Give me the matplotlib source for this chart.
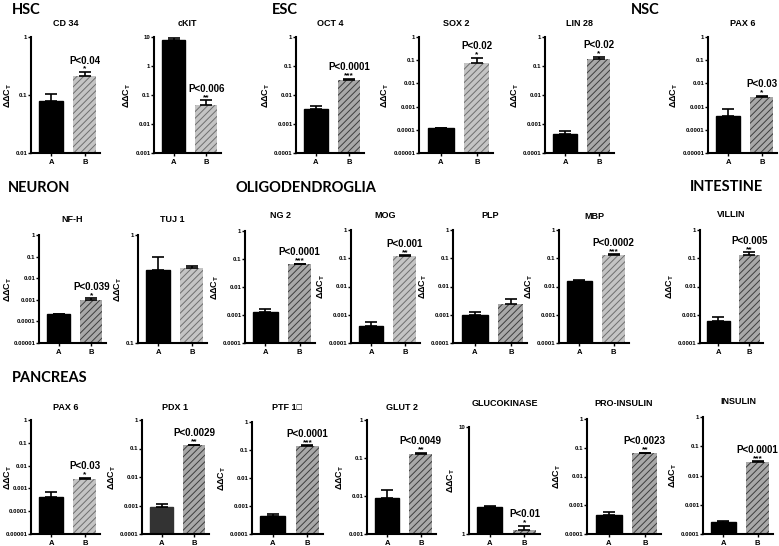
import matplotlib
matplotlib.use("Agg")
import matplotlib.pyplot as plt
from matplotlib.ticker import NullLocator

plt.rcParams['font.family'] = ['Liberation Sans', 'DejaVu Sans']
plt.rcParams['mathtext.fontset'] = 'custom'
plt.rcParams['mathtext.rm'] = 'Liberation Sans'
plt.rcParams['mathtext.bf'] = 'Liberation Sans:bold'
plt.rcParams['hatch.linewidth'] = 0.7

# data (A = control, B = treated), values and upper SEM
genes = ['CD 34', 'cKIT', 'OCT 4', 'SOX 2', 'LIN 28', 'PAX 6',
         'NF-H', 'TUJ 1', 'NG 2', 'MOG', 'PLP', 'MBP', 'VILLIN',
         'PAX 6', 'PDX 1', 'PTF 1\u25a1', 'GLUT 2', 'GLUCOKINASE', 'PRO-INSULIN', 'INSULIN']
a_vals = [0.08, 8, 0.0032, 0.00012, 0.00045, 0.0004,
          0.00022, 0.47, 0.0013, 0.0004, 0.001, 0.016, 0.0006,
          0.0004, 0.0009, 0.00045, 0.009, 1.8, 0.00045, 0.00025]
a_errs = [0.025, 1.5, 0.0011, 0.000005, 0.00012, 0.0004,
          0.00001, 0.15, 0.0003, 0.00015, 0.0003, 0.001, 0.00025,
          0.0003, 0.0002, 0.00005, 0.005, 0.02, 0.00015, 0.00003]
b_vals = [0.21, 0.045, 0.033, 0.075, 0.17, 0.0027,
          0.001, 0.5, 0.065, 0.12, 0.0025, 0.13, 0.13,
          0.0027, 0.13, 0.14, 0.13, 1.08, 0.065, 0.03]
b_errs = [0.04, 0.02, 0.004, 0.055, 0.04, 0.0003,
          0.0002, 0.02, 0.004, 0.006, 0.001, 0.01, 0.03,
          0.0003, 0.008, 0.01, 0.008, 0.12, 0.003, 0.001]
p_text = ['P<0.04', 'P<0.006', 'P<0.0001', 'P<0.02', 'P<0.02', 'P<0.03',
          'P<0.039', '', 'P<0.0001', 'P<0.001', '', 'P<0.0002', 'P<0.005',
          'P<0.03', 'P<0.0029', 'P<0.0001', 'P<0.0049', 'P<0.01', 'P<0.0023', 'P<0.0001']
stars = ['*', '**', '***', '*', '*', '*',
         '*', '', '***', '**', '', '***', '**',
         '*', '**', '***', '**', '*', '**', '***']
y_lo = [-2, -3, -4, -5, -4, -5, -5, -1, -4, -4, -4, -4, -4, -5, -4, -4, -3, 0, -4, -4]
y_hi = [0, 1, 0, 0, 0, 0, 0, 0, 0, 0, 0, 0, 0, 0, 0, 0, 0, 1, 0, 0]
groups = ['HSC', 'ESC', 'NSC', 'NEURON', 'OLIGODENDROGLIA', 'INTESTINE', 'PANCREAS']

# layout in pixels: left spine, right end, top, bottom
boxes = [(31, 100, 37, 153), (154, 221, 37, 153), (296, 364, 37, 153),
         (419, 493, 37, 153), (545, 614, 37, 153), (708, 777, 37, 153),
         (39, 106, 235, 343), (138, 207, 235, 343), (245, 315, 231, 343),
         (351, 420, 230, 343), (453, 527, 230, 343), (559, 629, 230, 343),
         (700, 763, 230, 343),
         (31, 100, 420, 534), (142, 209, 420, 534), (252, 323, 422, 534),
         (367, 436, 420, 534), (469, 540, 427, 534), (587, 661, 419, 534),
         (703, 773, 417, 534)]
title_y = [23, 23, 23, 23, 23, 23,
           220, 220, 216, 216, 216, 217, 215,
           407, 407, 408, 407, 403, 403, 402]
dark_b = [False, False, True, False, True, True,
          True, False, True, False, True, False, True,
          False, True, True, True, True, True, True]
group_pos = [(12, 10), (272, 10), (631, 10), (8, 188), (235, 188), (690, 187), (12, 378)]

W, H = 779, 546
fig = plt.figure(figsize=(W / 100, H / 100), dpi=100)


def tick_label(k):
    if k >= 0:
        return str(10 ** k)
    return f"{10.0 ** k:.{-k}f}"


for i, g in enumerate(genes):
    l, r, t, b = boxes[i]
    ax = fig.add_axes([l / W, 1 - b / H, (r - l) / W, (b - t) / H])
    ax.set_yscale('log')
    base = 10.0 ** y_lo[i]
    ax.set_ylim(base, 10.0 ** y_hi[i])
    ax.set_xlim(-0.6, 1.45)

    acol = '#333333' if g == 'PDX 1' else 'black'
    ax.bar(0, a_vals[i] - base, bottom=base, width=0.72, color=acol, edgecolor=acol)
    face, hcol = ('#a8a8a8', '#3c3c3c') if dark_b[i] else ('#c4c4c4', '#6e6e6e')
    ax.bar(1, b_vals[i] - base, bottom=base, width=0.68, facecolor=face,
           edgecolor=hcol, hatch='/////', linewidth=0)
    ax.errorbar([0], [a_vals[i]], yerr=[[0], [a_errs[i]]], fmt='none', ecolor='black',
                elinewidth=1.2, capsize=4, capthick=1.2)
    ax.errorbar([1], [b_vals[i]], yerr=[[0], [b_errs[i]]], fmt='none', ecolor='black',
                elinewidth=1.2, capsize=4, capthick=1.2)

    top = b_vals[i] + b_errs[i]
    if stars[i]:
        ax.annotate(stars[i], xy=(1, top), xytext=(0, -0.5), textcoords='offset points',
                    ha='center', va='bottom', fontsize=6, fontweight='bold')
    if p_text[i]:
        ax.annotate(p_text[i], xy=(1, top), xytext=(0, 4.5), textcoords='offset points',
                    ha='center', va='bottom', fontsize=7, fontweight='bold')

    ax.spines[['top', 'right']].set_visible(False)
    for s in ('left', 'bottom'):
        ax.spines[s].set_linewidth(1.5)
    ks = list(range(y_lo[i], y_hi[i] + 1))
    ax.set_yticks([10.0 ** k for k in ks])
    ax.set_yticklabels([tick_label(k) for k in ks], fontweight='bold')
    ax.yaxis.set_minor_locator(NullLocator())
    ax.set_xticks([0, 1])
    ax.set_xticklabels(['A', 'B'], fontweight='bold')
    ax.tick_params(axis='y', length=2, width=1, labelsize=4.4, pad=0.5)
    ax.tick_params(axis='x', length=2.5, width=1, labelsize=5.5, pad=1.5)
    ax.set_ylabel(r'$\mathbf{\Delta\Delta C_T}$', fontsize=6.5, labelpad=1.5)
    if l < 45:
        # left-most panels: keep the label inside the figure, as in the reference
        ax.yaxis.set_label_coords((14 - l) / (r - l), 0.5)
    fig.text((l + r) / 2 / W, 1 - title_y[i] / H, g, fontsize=6.5, fontweight='bold',
             ha='center', va='center')

for name, (x, y) in zip(groups, group_pos):
    fig.text(x / W, 1 - y / H, name, fontsize=10.5, fontweight='bold', family='Lato',
             ha='left', va='center')

fig.savefig('out.png', dpi=100)
